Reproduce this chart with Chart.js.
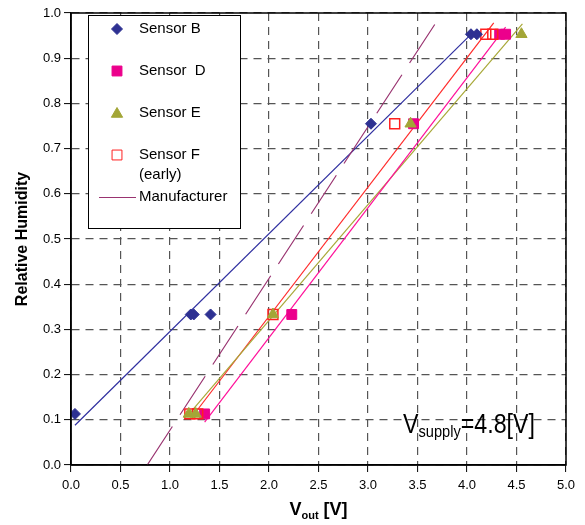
<!DOCTYPE html>
<html>
<head>
<meta charset="utf-8">
<script src="https://cdn.jsdelivr.net/npm/chart.js@4.4.0/dist/chart.umd.min.js"></script>
<style>
  html, body { margin: 0; padding: 0; background: #fff; }
  #wrap { width: 585px; height: 525px; }
</style>
</head>
<body>
<div id="wrap"><canvas id="c"></canvas></div>
<script>
// measured points (V_out, relative humidity)
const sensorBX = [0.04, 1.21, 1.24, 1.41, 3.03, 4.04, 4.10];
const sensorBY = [0.113, 0.333, 0.333, 0.333, 0.755, 0.953, 0.953];
const sensorDX = [1.35, 2.23, 3.46, 4.33, 4.39];
const sensorDY = [0.113, 0.333, 0.755, 0.953, 0.953];
const sensorEX = [1.19, 1.26, 2.04, 3.43, 4.55];
const sensorEY = [0.113, 0.113, 0.333, 0.755, 0.953];
const sensorFX = [1.20, 1.28, 2.04, 3.27, 4.19, 4.26];
const sensorFY = [0.113, 0.113, 0.333, 0.755, 0.953, 0.953];

// fitted lines (end points)
const fitBX = [0.04, 4.05];
const fitBY = [0.088, 0.955];
const fitDX = [1.35, 4.39];
const fitDY = [0.095, 0.969];
const fitEX = [1.20, 4.56];
const fitEY = [0.115, 0.976];
const fitFX = [1.27, 4.27];
const fitFY = [0.120, 0.978];
const manufX = [0.77, 3.75];
const manufY = [0.0, 1.0];

const FONT = "'Liberation Sans', Arial, sans-serif";
const COLORS = {
  b: "#2e3192",
  bLine: "#3030a0",
  d: "#ec008c",
  dLine: "#ff109a",
  e: "#a3a637",
  eLine: "#a8a838",
  f: "#ff2020",
  fLine: "#ff2a2a",
  manuf: "#993370",
};

const pts = (xs, ys) => xs.map((x, i) => ({ x: x, y: ys[i] }));

function lineSet(label, xs, ys, color, dash) {
  return {
    label: label,
    type: "line",
    data: pts(xs, ys),
    borderColor: color,
    borderWidth: 1.2,
    borderDash: dash || [],
    pointRadius: 0,
    fill: false,
    showLine: true,
    order: 10,
  };
}

// legend box drawn inside the plot area, like the original
const insideLegend = {
  id: "insideLegend",
  afterDraw(chart) {
    const ctx = chart.ctx;
    const h = Chart.helpers;
    ctx.save();
    ctx.fillStyle = "#fff";
    ctx.fillRect(88, 15, 152, 213);
    ctx.strokeStyle = "#000";
    ctx.lineWidth = 1;
    ctx.strokeRect(88.5, 15.5, 152, 213);

    const mx = 117, tx = 139;
    ctx.fillStyle = COLORS.b; ctx.strokeStyle = COLORS.b;
    h.drawPoint(ctx, { pointStyle: "rectRot", radius: 5.5, borderWidth: 1 }, mx, 29);

    ctx.fillStyle = COLORS.d; ctx.strokeStyle = COLORS.d;
    h.drawPoint(ctx, { pointStyle: "rect", radius: 7, borderWidth: 1 }, mx, 71);

    ctx.fillStyle = COLORS.e; ctx.strokeStyle = COLORS.e;
    h.drawPoint(ctx, { pointStyle: "triangle", radius: 6.5, borderWidth: 1 }, mx, 114);

    ctx.fillStyle = "rgba(0,0,0,0)"; ctx.strokeStyle = COLORS.f;
    h.drawPoint(ctx, { pointStyle: "rect", radius: 7, borderWidth: 1.5 }, mx, 155);

    ctx.strokeStyle = COLORS.manuf;
    ctx.lineWidth = 1.2;
    ctx.beginPath();
    ctx.moveTo(99, 197.5);
    ctx.lineTo(136, 197.5);
    ctx.stroke();

    ctx.font = "15px " + FONT;
    ctx.fillStyle = "#000";
    ctx.textBaseline = "middle";
    ctx.textAlign = "left";
    ctx.fillText("Sensor B", tx, 29);
    ctx.fillText("Sensor  D", tx, 71);
    ctx.fillText("Sensor E", tx, 113);
    ctx.fillText("Sensor F", tx, 155);
    ctx.fillText("(early)", tx, 175);
    ctx.fillText("Manufacturer", tx, 197);
    ctx.restore();
  },
};

// frame, axis titles and supply annotation
const decorations = {
  id: "decorations",
  afterDraw(chart) {
    const ctx = chart.ctx;
    const a = chart.chartArea;
    ctx.save();
    ctx.strokeStyle = "#000";
    ctx.lineWidth = 1.5;
    ctx.strokeRect(a.left, a.top, a.right - a.left, a.bottom - a.top);

    // y title
    ctx.fillStyle = "#000";
    ctx.font = "bold 16px " + FONT;
    ctx.textAlign = "center";
    ctx.textBaseline = "middle";
    ctx.translate(23, (a.top + a.bottom) / 2);
    ctx.rotate(-Math.PI / 2);
    ctx.fillText("Relative Humidity", 0, 0);
    ctx.setTransform(1, 0, 0, 1, 0, 0);

    // x title with subscript
    ctx.textAlign = "left";
    ctx.textBaseline = "alphabetic";
    const parts = [["V", "bold 18px "], ["out", "bold 11px "], [" [V]", "bold 18px "]];
    let w = 0;
    parts.forEach(p => { ctx.font = p[1] + FONT; w += ctx.measureText(p[0]).width; });
    let x = (a.left + a.right) / 2 - w / 2;
    const base = 515;
    parts.forEach((p, i) => {
      ctx.font = p[1] + FONT;
      ctx.fillText(p[0], x, i === 1 ? base + 4 : base);
      x += ctx.measureText(p[0]).width;
    });

    // supply voltage note (narrowed, as in the original)
    ctx.translate(403, 433);
    ctx.scale(0.86, 1);
    let sx = 0;
    ctx.font = "27px " + FONT;
    ctx.fillText("V", sx, 0);
    sx += ctx.measureText("V").width;
    ctx.font = "17px " + FONT;
    ctx.fillText("supply", sx, 4);
    sx += ctx.measureText("supply").width;
    ctx.font = "27px " + FONT;
    ctx.fillText("=4.8[V]", sx, 0);
    ctx.restore();
  },
};

const gridOpts = {
  color: "#555",
  lineWidth: 1.2,
  tickColor: "#000",
  tickLength: 7,
  tickWidth: 1,
  tickBorderDash: [],
};

new Chart(document.getElementById("c"), {
  type: "scatter",
  data: {
    datasets: [
      {
        label: "Sensor B",
        data: pts(sensorBX, sensorBY),
        pointStyle: "rectRot",
        pointRadius: 5.5,
        backgroundColor: COLORS.b,
        borderColor: COLORS.b,
        borderWidth: 1,
        order: 1,
      },
      {
        label: "Sensor  D",
        data: pts(sensorDX, sensorDY),
        pointStyle: "rect",
        pointRadius: 7,
        backgroundColor: COLORS.d,
        borderColor: COLORS.d,
        borderWidth: 1,
        order: 4,
      },
      {
        label: "Sensor E",
        data: pts(sensorEX, sensorEY),
        pointStyle: "triangle",
        pointRadius: 6.5,
        backgroundColor: COLORS.e,
        borderColor: COLORS.e,
        borderWidth: 1,
        order: 2,
      },
      {
        label: "Sensor F (early)",
        data: pts(sensorFX, sensorFY),
        pointStyle: "rect",
        pointRadius: 7,
        backgroundColor: "rgba(0,0,0,0)",
        borderColor: COLORS.f,
        borderWidth: 1.5,
        order: 3,
      },
      lineSet("Manufacturer", manufX, manufY, COLORS.manuf, [46, 14]),
      lineSet("fit B", fitBX, fitBY, COLORS.bLine),
      lineSet("fit D", fitDX, fitDY, COLORS.dLine),
      lineSet("fit E", fitEX, fitEY, COLORS.eLine),
      lineSet("fit F", fitFX, fitFY, COLORS.fLine),
    ],
  },
  options: {
    responsive: true,
    maintainAspectRatio: false,
    animation: false,
    layout: { padding: { top: 13, right: 19, left: 0, bottom: 0 } },
    plugins: {
      legend: { display: false },
      tooltip: { enabled: false },
    },
    scales: {
      x: {
        type: "linear",
        min: 0,
        max: 5,
        afterFit: (s) => { s.height = 60; },
        ticks: {
          stepSize: 0.5,
          color: "#000",
          font: { family: FONT, size: 13 },
          padding: 6,
          callback: (v) => v.toFixed(1),
        },
        grid: gridOpts,
        border: { color: "#000", width: 1.5, dash: [8, 6] },
      },
      y: {
        type: "linear",
        min: 0,
        max: 1,
        afterFit: (s) => { s.width = 71; },
        ticks: {
          stepSize: 0.1,
          color: "#000",
          font: { family: FONT, size: 13 },
          padding: 3,
          callback: (v) => v.toFixed(1),
        },
        grid: gridOpts,
        border: { color: "#000", width: 1.5, dash: [8, 6] },
      },
    },
  },
  plugins: [insideLegend, decorations],
});
</script>
</body>
</html>
